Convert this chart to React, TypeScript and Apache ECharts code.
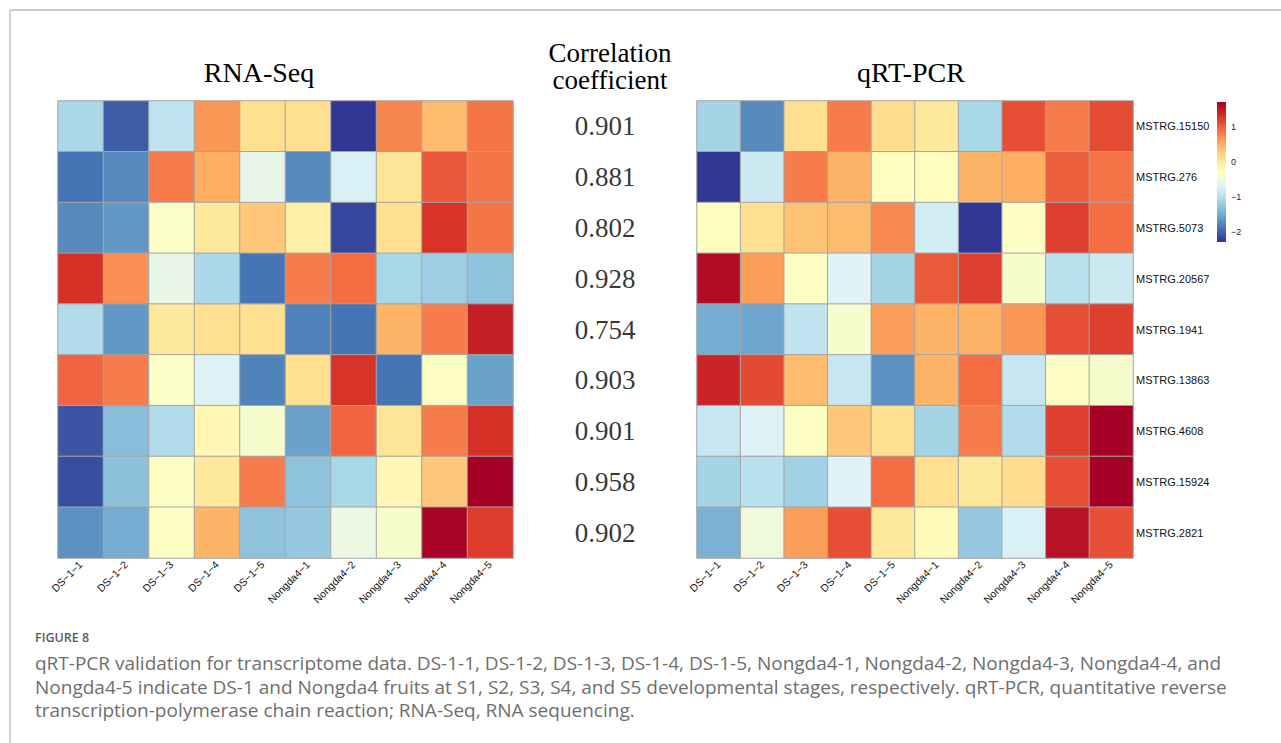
import React, { useEffect, useRef } from "react";
import * as echarts from "echarts";

// Samples (columns) and genes (rows, top to bottom)
const samples = [
  "DS−1−1", "DS−1−2", "DS−1−3", "DS−1−4", "DS−1−5",
  "Nongda4−1", "Nongda4−2", "Nongda4−3", "Nongda4−4", "Nongda4−5",
];
const genes = [
  "MSTRG.15150", "MSTRG.276", "MSTRG.5073", "MSTRG.20567", "MSTRG.1941",
  "MSTRG.13863", "MSTRG.4608", "MSTRG.15924", "MSTRG.2821",
];

// Row-scaled expression, RNA-Seq
const rnaSeq = [
  [-1.1, -2.05, -0.95, 0.65, 0.1, 0.1, -2.3, 0.75, 0.4, 0.85],
  [-1.9, -1.75, 0.8, 0.5, -0.6, -1.75, -0.75, 0.05, 1.05, 0.85],
  [-1.75, -1.65, -0.35, 0.0, 0.3, -0.1, -2.2, 0.1, 1.28, 0.85],
  [1.3, 0.68, -0.6, -1.1, -1.9, 0.8, 0.9, -1.12, -1.2, -1.3],
  [-1.05, -1.65, 0.0, 0.1, 0.1, -1.8, -1.9, 0.45, 0.8, 1.45],
  [0.95, 0.8, -0.35, -0.72, -1.8, 0.1, 1.28, -1.9, -0.33, -1.58],
  [-2.1, -1.35, -1.05, -0.2, -0.4, -1.58, 0.95, 0.05, 0.8, 1.3],
  [-2.15, -1.32, -0.33, 0.0, 0.8, -1.3, -1.12, -0.2, 0.3, 1.7],
  [-1.7, -1.5, -0.33, 0.45, -1.3, -1.25, -0.55, -0.4, 1.68, 1.22],
];

// Row-scaled expression, qRT-PCR
const qrtPcr = [
  [-1.15, -1.75, 0.1, 0.8, 0.12, 0.0, -1.12, 1.1, 0.8, 1.12],
  [-2.3, -0.85, 0.8, 0.45, -0.28, -0.28, 0.45, 0.5, 1.0, 0.85],
  [-0.28, 0.1, 0.33, 0.4, 0.72, -0.8, -2.3, -0.33, 1.2, 0.9],
  [1.6, 0.6, -0.33, -0.7, -1.15, 1.02, 1.2, -0.4, -1.0, -0.85],
  [-1.5, -1.55, -0.95, -0.4, 0.6, 0.45, 0.45, 0.65, 1.1, 1.2],
  [1.4, 1.13, 0.4, -0.9, -1.7, 0.45, 0.9, -0.9, -0.33, -0.4],
  [-0.9, -0.72, -0.33, 0.3, 0.1, -1.15, 0.8, -1.05, 1.2, 1.7],
  [-1.15, -1.0, -1.17, -0.7, 0.9, 0.1, 0.0, 0.12, 1.1, 1.7],
  [-1.45, -0.5, 0.6, 1.1, 0.0, -0.25, -1.25, -0.75, 1.55, 1.1],
];

// Correlation coefficient per gene
const correlations = [0.901, 0.881, 0.802, 0.928, 0.754, 0.903, 0.901, 0.958, 0.902];

// Colour scale range and colour-bar tick labels
const scaleMin = -2.3;
const scaleMax = 1.7;
const colorTicks = [-2, -1, 0, 1];

const palette = [
  "#313695", "#4575b4", "#74add1", "#abd9e9", "#e0f3f8", "#ffffbf",
  "#fee090", "#fdae61", "#f46d43", "#d73027", "#a50026",
];

const captionLines = [
  "qRT-PCR validation for transcriptome data. DS-1-1, DS-1-2, DS-1-3, DS-1-4, DS-1-5, Nongda4-1, Nongda4-2, Nongda4-3, Nongda4-4, and",
  "Nongda4-5 indicate DS-1 and Nongda4 fruits at S1, S2, S3, S4, and S5 developmental stages, respectively. qRT-PCR, quantitative reverse",
  "transcription-polymerase chain reaction; RNA-Seq, RNA sequencing.",
];

const SERIF = "'Liberation Serif', 'Times New Roman', serif";
const SANS = "'Liberation Sans', Arial, sans-serif";
const CAPTION_FONT = "'Open Sans', 'Noto Sans', sans-serif";

function toCells(matrix: number[][]) {
  const out: [number, number, number][] = [];
  matrix.forEach((row, r) => row.forEach((v, c) => out.push([c, r, v])));
  return out;
}

export default function App() {
  const ref = useRef<HTMLDivElement>(null);

  useEffect(() => {
    if (!ref.current) return;
    const chart = echarts.init(ref.current, undefined, { renderer: "svg" });

    const cellStyle = { borderColor: "#a4a4a4", borderWidth: 1 };
    const hiddenAxis = {
      axisLine: { show: false },
      axisTick: { show: false },
      splitLine: { show: false },
    };
    const sampleLabel = {
      rotate: 45, margin: 5, fontSize: 10.5, color: "#111", fontFamily: SANS, interval: 0,
    };

    const gradientStops = palette
      .slice()
      .reverse()
      .map((color, i) => ({ offset: i / (palette.length - 1), color }));

    chart.setOption({
      animation: false,
      backgroundColor: "#ffffff",
      grid: [
        { left: 58, top: 101, width: 455, height: 457 },
        { left: 697, top: 101, width: 436, height: 457 },
        { left: 1217, top: 102, width: 9, height: 140 },
        { left: 560, top: 101, width: 90, height: 457 },
      ],
      xAxis: [
        { type: "category", gridIndex: 0, data: samples, ...hiddenAxis, axisLabel: sampleLabel },
        { type: "category", gridIndex: 1, data: samples, ...hiddenAxis, axisLabel: sampleLabel },
        { type: "value", gridIndex: 2, min: 0, max: 1, show: false },
        { type: "category", gridIndex: 3, data: ["r"], show: false },
      ],
      yAxis: [
        { type: "category", gridIndex: 0, data: genes, inverse: true, show: false },
        {
          type: "category", gridIndex: 1, data: genes, inverse: true, position: "right", ...hiddenAxis,
          axisLabel: { margin: 3, fontSize: 11, color: "#111", fontFamily: SANS },
        },
        {
          type: "value", gridIndex: 2, min: scaleMin, max: scaleMax, position: "right", ...hiddenAxis,
          axisLabel: {
            margin: 5, fontSize: 9, color: "#222", fontFamily: SANS,
            customValues: colorTicks,
            formatter: (v: number) => (v < 0 ? "\u2212" + Math.abs(v) : String(v)),
          },
        },
        { type: "category", gridIndex: 3, data: genes, inverse: true, show: false },
      ],
      visualMap: {
        type: "continuous",
        show: false,
        min: scaleMin,
        max: scaleMax,
        seriesIndex: [0, 1],
        dimension: 2,
        inRange: { color: palette },
      },
      series: [
        {
          type: "heatmap", xAxisIndex: 0, yAxisIndex: 0,
          data: toCells(rnaSeq), itemStyle: cellStyle,
        },
        {
          type: "heatmap", xAxisIndex: 1, yAxisIndex: 1,
          data: toCells(qrtPcr), itemStyle: cellStyle,
        },
        {
          type: "custom", xAxisIndex: 2, yAxisIndex: 2,
          data: [[0, scaleMin, 1, scaleMax]],
          renderItem: (_params: any, api: any) => {
            const a = api.coord([api.value(0), api.value(1)]);
            const b = api.coord([api.value(2), api.value(3)]);
            return {
              type: "rect",
              shape: { x: a[0], y: b[1], width: b[0] - a[0], height: a[1] - b[1] },
              style: { fill: new echarts.graphic.LinearGradient(0, 0, 0, 1, gradientStops) },
            };
          },
        },
        {
          type: "scatter", xAxisIndex: 3, yAxisIndex: 3,
          symbolSize: 0,
          data: correlations.map((v, i) => [0, i, v]),
          label: {
            show: true, position: "inside",
            formatter: (p: any) => p.value[2].toFixed(3),
            fontFamily: SERIF, fontSize: 27, color: "#000",
          },
        },
      ],
      graphic: [
        // figure frame
        { type: "line", shape: { x1: 10, y1: 10, x2: 1281, y2: 10 }, style: { stroke: "#bdbdbd", lineWidth: 1.5 } },
        { type: "line", shape: { x1: 10, y1: 10, x2: 10, y2: 743 }, style: { stroke: "#d0d0d0", lineWidth: 2 } },
        // panel titles
        { type: "text", x: 259, y: 72, style: { text: "RNA-Seq", font: `28px ${SERIF}`, fill: "#000", align: "center", verticalAlign: "middle" } },
        {
          type: "text", x: 610, y: 66.5,
          style: {
            text: "Correlation\ncoefficient", font: `27px ${SERIF}`, lineHeight: 27.5,
            fill: "#000", align: "center", verticalAlign: "middle",
          },
        },
        { type: "text", x: 911, y: 72, style: { text: "qRT-PCR", font: `28px ${SERIF}`, fill: "#000", align: "center", verticalAlign: "middle" } },
        // caption
        { type: "text", x: 35, y: 637, style: { text: "FIGURE 8", font: `600 12.5px ${CAPTION_FONT}`, fill: "#5c5c5c", verticalAlign: "middle" } },
        ...captionLines.map((line, i) => ({
          type: "text", x: 35, y: 663 + i * 23.5,
          style: { text: line, font: `19px ${CAPTION_FONT}`, fill: "#6e6e6e", verticalAlign: "middle" },
        })),
      ],
    });

    return () => chart.dispose();
  }, []);

  return (
    <div
      ref={ref}
      style={{ position: "absolute", left: 0, top: 0, width: 1281, height: 743 }}
    />
  );
}
